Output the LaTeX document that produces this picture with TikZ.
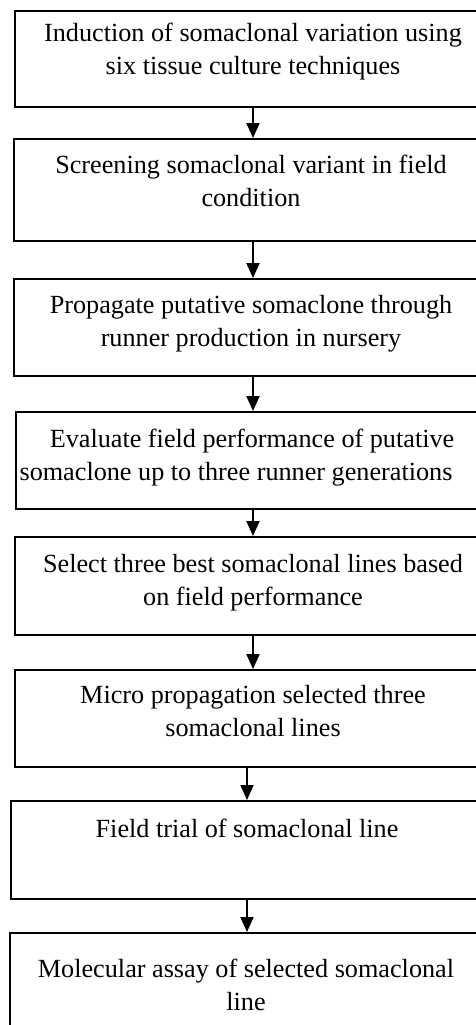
\documentclass[tikz,border=0pt]{standalone}
\usepackage{fontspec}
\setmainfont{Liberation Serif}
\usetikzlibrary{arrows.meta}
\begin{document}
\begin{tikzpicture}[x=1pt,y=-1pt,
  box/.style={draw=black, line width=2pt, inner sep=0pt, rectangle},
  txt/.style={font=\fontsize{26.2}{33}\selectfont, align=center, inner sep=0pt, anchor=north},
  flow/.style={-{Triangle[length=15pt,width=13pt]}, line width=2pt}]
\useasboundingbox (0,0) rectangle (476,1025);
\clip (0,0) rectangle (476,1025);
\fill[white] (0,0) rectangle (476,1025);
% boxes (right side and bottom run off the picture)
\node[box, minimum width=476pt, minimum height=96pt]  (b1) at (253,59) {};
\node[box, minimum width=478pt, minimum height=102pt] (b2) at (253,190) {};
\node[box, minimum width=478pt, minimum height=97pt]  (b3) at (253,327.5) {};
\node[box, minimum width=474pt, minimum height=97pt]  (b4) at (253,460.5) {};
\node[box, minimum width=476pt, minimum height=98pt]  (b5) at (253,586) {};
\node[box, minimum width=476pt, minimum height=97pt]  (b6) at (253,718.5) {};
\node[box, minimum width=472pt, minimum height=98pt]  (b7) at (247,850) {};
\node[box, minimum width=474pt, minimum height=107pt] (b8) at (247,986.5) {};
% texts
\node[txt] (t1) at (253,23) {Induction of somaclonal variation using\\six tissue culture techniques};
\node[txt] (t2) at (251,155) {Screening somaclonal variant in field\\condition};
\node[txt] (t3) at (251,295) {Propagate putative somaclone through\\runner production in nursery};
\node[txt] (t4) at (236,429) {\hspace*{32pt}Evaluate field performance of putative\\somaclone up to three runner generations};
\node[txt] (t5) at (253,554) {Select three best somaclonal lines based\\on field performance};
\node[txt] (t6) at (253,685) {Micro propagation selected three\\somaclonal lines};
\node[txt] (t7) at (247,819) {Field trial of somaclonal line};
\node[txt] (t8) at (246,959) {Molecular assay of selected somaclonal\\line};
% arrows
\draw[flow] (b1.south) -- (b2.north);
\draw[flow] (b2.south) -- (b3.north);
\draw[flow] (b3.south) -- (b4.north);
\draw[flow] (b4.south) -- (b5.north);
\draw[flow] (b5.south) -- (b6.north);
\draw[flow] (b7.north |- b6.south) -- (b7.north);
\draw[flow] (b7.south) -- (b8.north);
\end{tikzpicture}
\end{document}
